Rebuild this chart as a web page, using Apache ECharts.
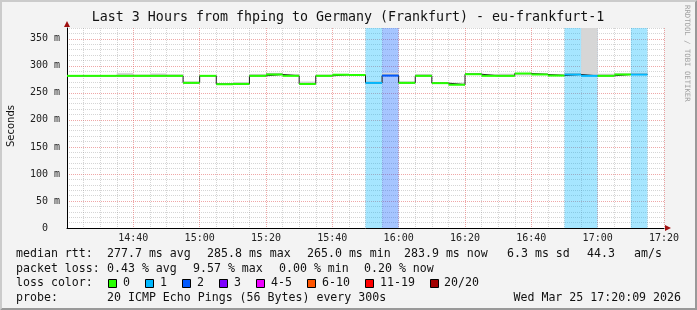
<!DOCTYPE html>
<html><head><meta charset="utf-8">
<script src="https://cdn.jsdelivr.net/npm/echarts@6/dist/echarts.min.js"></script>
<style>html,body{margin:0;padding:0;background:#f3f3f3}#c{width:697px;height:310px}</style>
</head><body><div id="c"></div>
<script>
// ---- data (5-minute steps, start times) ----
const times = ['14:20','14:25','14:30','14:35','14:40','14:45','14:50','14:55','15:00','15:05','15:10','15:15',
  '15:20','15:25','15:30','15:35','15:40','15:45','15:50','15:55','16:00','16:05','16:10','16:15',
  '16:20','16:25','16:30','16:35','16:40','16:45','16:50','16:55','17:00','17:05','17:10'];
const median = [281.5,281.5,281.5,281.5,281.5,281.5,281.5,268.5,281.5,266,266.5,281.5,
  284,281.5,266.5,281.5,283.5,283,268.5,282,268.5,281.5,268,265,
  284.5,281.5,281.5,285.8,284,282,284,281.5,281.5,284,283.9];
const loss = [0,0,0,0,0,0,0,0,0,0,0,0, 0,0,0,0,0,0,1,2,0,0,0,0, 0,0,0,0,0,0,1,1,0,0,1];
const smokeLo = [281,281,281,281,281,281,281,268,281,265.5,266,281,
  283.5,281,266,281,283,282.5,268,281.5,268,281,267.5,264.5,
  284,281,281,282,283.5,281.5,283.5,281,281,283.5,283.4];
const smokeHi = [282.5,282.5,282.5,287,283.5,286,284,271,282.5,268,270,285,
  287,285,271,283.5,285,284.5,271,287,271,285,270,269,
  286.5,285,285.5,286.5,286,285,287,375,285.5,285.5,287];
const yTicks = [0,50,100,150,200,250,300,350];
const xTickLabels = ['14:40','15:00','15:20','15:40','16:00','16:20','16:40','17:00','17:20'];
const lossLegend = ['0','1','2','3','4-5','6-10','11-19','20/20'];
const statsRtt = ['277.7 ms avg','285.8 ms max','265.0 ms min','283.9 ms now','6.3 ms sd','44.3','am/s'];
const statsLoss = ['0.43 % avg','9.57 % max','0.00 % min','0.20 % now'];
const probeText = '20 ICMP Echo Pings (56 Bytes) every 300s';
const stampText = 'Wed Mar 25 17:20:09 2026';
const titleText = 'Last 3 Hours from fhping to Germany (Frankfurt) - eu-frankfurt-1';

// ---- styles ----
const lossColors = ['#26ff00','#00b8ff','#0059ff','#7e00ff','#ee00ff','#ff5500','#ff0000','#a10000'];
function lossIdx(n){ if(n<=3) return n; if(n<=5) return 4; if(n<=10) return 5; if(n<=19) return 6; return 7; }
const toMin = s => { const [h,m] = s.split(':').map(Number); return h*60+m; };
const fmt = v => { const h = Math.floor(v/60), m = v%60; return h + ':' + String(m).padStart(2,'0'); };
const STEP = 5;
const X0 = toMin('14:20'), X1 = toMin(xTickLabels[xTickLabels.length-1]);
const YMAX = 370;

const steps = times.map((t,i)=>[toMin(t), median[i], loss[i], smokeLo[i], smokeHi[i]]);
const lineData = steps.map(s=>[s[0], s[1]]);
lineData.push([steps[steps.length-1][0]+STEP, median[median.length-1]]);

const mono = 'DejaVu Sans Mono';
const chart = echarts.init(document.getElementById('c'), null, {renderer:'canvas'});

const gridMinor = 'rgba(128,128,128,0.33)';
const gridMajor = 'rgba(224,79,79,0.5)';

const graphics = [];
const W = 697, H = 310;
graphics.push({type:'polygon', shape:{points:[[0,0],[W,0],[W-2,2],[2,2],[2,H-2],[0,H]]}, style:{fill:'#cbcbcb'}, silent:true});
graphics.push({type:'polygon', shape:{points:[[0,H],[W,H],[W,0],[W-2,2],[W-2,H-2],[2,H-2]]}, style:{fill:'#999999'}, silent:true});
graphics.push({type:'text', style:{text:titleText, x:348, y:18, font:'13.3px '+mono, fill:'#111', textAlign:'center', textVerticalAlign:'middle'}});
graphics.push({type:'text', x:11, y:126, rotation:Math.PI/2, style:{text:'Seconds', x:0, y:0, font:'10px "DejaVu Sans"', fill:'#111', textAlign:'center', textVerticalAlign:'middle'}});
graphics.push({type:'text', x:687, y:5, rotation:-Math.PI/2, style:{text:'RRDTOOL / TOBI OETIKER', x:0, y:0, font:'7.3px '+mono, fill:'#a0a0a0', textAlign:'left', textVerticalAlign:'middle'}});
// axis arrows
graphics.push({type:'polygon', z:100, shape:{points:[[64,27],[70,27],[67,21]]}, style:{fill:'#a01010'}});
graphics.push({type:'polygon', z:100, shape:{points:[[665,225],[665,231],[671,228]]}, style:{fill:'#a01010'}});
// legend
const lf = '11.6px '+mono;
function txt(x,y,s,align){ graphics.push({type:'text', style:{text:s, x:x, y:y, font:lf, fill:'#111', textAlign:align||'left', textVerticalAlign:'middle'}}); }
txt(16,254,'median rtt:');
[107,207,307,404,507,587,634].forEach((x,i)=>txt(x,254,statsRtt[i]));
txt(16,269,'packet loss:');
[107,193,279,364].forEach((x,i)=>txt(x,269,statsLoss[i]));
txt(16,283,'loss color:');
const boxX = [108,145,182,219,256,307,365,430];
const labX = [123,160,197,234,271,322,380,444];
lossLegend.forEach((l,i)=>{
  graphics.push({type:'rect', shape:{x:boxX[i]+0.5, y:279.5, width:8, height:8}, style:{fill:lossColors[i], stroke:'#000', lineWidth:1}});
  txt(labX[i],283,l);
});
txt(16,298,'probe:');
txt(107,298,probeText);
txt(681,298,stampText,'right');

chart.setOption({
  animation:false,
  backgroundColor:'#f3f3f3',
  grid:{left:67, right:W-664, top:28, bottom:H-228, show:true, backgroundColor:'#ffffff', borderWidth:0},
  xAxis:{type:'value', min:X0, max:X1, interval:STEP,
    axisLine:{show:true, onZero:false, lineStyle:{color:'#000', width:1}},
    axisTick:{show:false},
    axisLabel:{fontFamily:mono, fontSize:10, color:'#222', margin:5,
      formatter:v=> (xTickLabels.indexOf(fmt(v))>=0) ? fmt(v) : ''},
    splitLine:{show:true, lineStyle:{color:[gridMajor,gridMinor,gridMinor,gridMinor], type:[1,1], width:1}}
  },
  yAxis:{type:'value', min:0, max:YMAX, interval:10,
    axisLine:{show:true, lineStyle:{color:'#000', width:1}},
    axisTick:{show:false},
    axisLabel:{fontFamily:mono, fontSize:10, color:'#222', margin:7, showMaxLabel:false,
      formatter:v=> yTicks.indexOf(v)<0 ? '' : (v===0 ? '0  ' : v+' m')},
    splitLine:{show:true, lineStyle:{color:[gridMajor,gridMinor,gridMinor,gridMinor,gridMinor], type:[1,1], width:1}}
  },
  graphic:graphics,
  series:[
    { // loss background
      type:'custom', z:1, clip:true, silent:true,
      data: steps.filter(s=>s[2]>0).map(s=>[s[0], s[2]]),
      renderItem:(p, api)=>{
        const t=api.value(0), L=api.value(1);
        const a=api.coord([t, YMAX]), b=api.coord([t+STEP, 0]);
        return {type:'rect', shape:{x:a[0], y:a[1], width:b[0]-a[0], height:b[1]-a[1]}, style:{fill:lossColors[lossIdx(L)], opacity:0.35}};
      }
    },
    { // smoke
      type:'custom', z:2, clip:true, silent:true,
      data: steps.map(s=>[s[0], s[3], s[4], s[1]]),
      renderItem:(p, api)=>{
        const t=api.value(0), lo=api.value(1), hi=api.value(2), m=api.value(3);
        const a=api.coord([t, hi]), b=api.coord([t+STEP, lo]);
        const c=api.coord([t, Math.min(hi, m+2)]), d=api.coord([t+STEP, m]);
        return {type:'group', children:[
          {type:'rect', shape:{x:a[0], y:a[1], width:b[0]-a[0], height:b[1]-a[1]}, style:{fill:'#d6d6d6'}},
          {type:'rect', shape:{x:c[0], y:c[1], width:d[0]-c[0], height:d[1]-c[1]}, style:{fill:'#a8a8a8'}}
        ]};
      }
    },
    { // step edges
      type:'line', z:3, step:'end', showSymbol:false, symbol:'none', silent:true,
      data: lineData, lineStyle:{color:'#1a1a1a', width:1}
    },
    { // loss-coloured median
      type:'custom', z:4, clip:true, silent:true,
      data: steps.map(s=>[s[0], s[1], s[2]]),
      renderItem:(p, api)=>{
        const t=api.value(0), m=api.value(1), L=api.value(2);
        const a=api.coord([t, m]), b=api.coord([t+STEP, m]);
        return {type:'line', shape:{x1:a[0], y1:a[1], x2:b[0], y2:b[1]}, style:{stroke:lossColors[lossIdx(L)], lineWidth:2}};
      }
    }
  ]
});
</script></body></html>
